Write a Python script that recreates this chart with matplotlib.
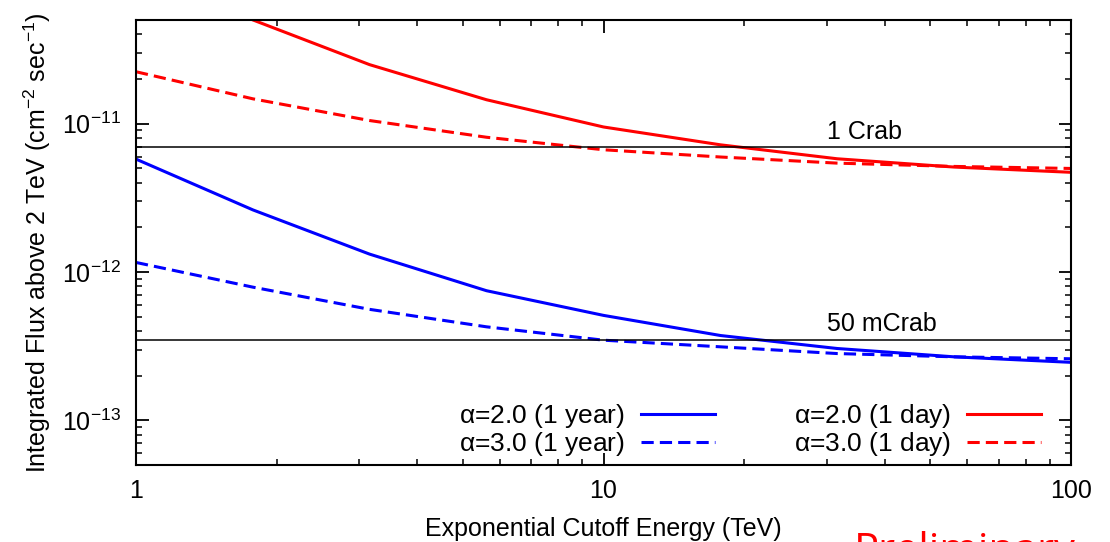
import numpy as np
import matplotlib
matplotlib.use("Agg")
import matplotlib.pyplot as plt
from matplotlib.ticker import LogLocator, NullFormatter, FixedLocator, FixedFormatter

plt.rcParams['font.family'] = ['Liberation Sans', 'DejaVu Sans']
plt.rcParams['mathtext.fontset'] = 'custom'
plt.rcParams['mathtext.rm'] = 'Liberation Sans'
plt.rcParams['mathtext.it'] = 'Liberation Sans'
plt.rcParams['mathtext.default'] = 'regular'

# cutoff energy grid (TeV)
cutoff_tev = [1.0, 1.78, 3.16, 5.62, 10.0, 17.8, 31.6, 56.2, 100.0]

# integrated flux above 2 TeV (cm^-2 s^-1)
flux_a2_year = [5.77e-12, 2.62e-12, 1.32e-12, 7.48e-13, 5.10e-13, 3.73e-13, 3.05e-13, 2.68e-13, 2.46e-13]
flux_a3_year = [1.16e-12, 7.90e-13, 5.60e-13, 4.27e-13, 3.47e-13, 3.13e-13, 2.82e-13, 2.68e-13, 2.60e-13]
flux_a2_day = [1.10e-10, 5.00e-11, 2.50e-11, 1.45e-11, 9.50e-12, 7.20e-12, 5.80e-12, 5.10e-12, 4.70e-12]
flux_a3_day = [2.24e-11, 1.47e-11, 1.05e-11, 8.10e-12, 6.67e-12, 5.96e-12, 5.42e-12, 5.15e-12, 4.99e-12]

crab_flux = 7.0e-12
crab_frac = 0.05

fig = plt.figure(figsize=(11.1, 5.42), dpi=100)
ax = fig.add_axes([0.1225, 0.1421, 0.8424, 0.821])

ax.plot(cutoff_tev, flux_a2_year, color='blue', lw=2.2, label=r'$\alpha$=2.0 (1 year)')
ax.plot(cutoff_tev, flux_a3_year, color='blue', lw=2.2, dashes=(4, 2), label=r'$\alpha$=3.0 (1 year)')
ax.plot(cutoff_tev, flux_a2_day, color='red', lw=2.2, label=r'$\alpha$=2.0 (1 day)')
ax.plot(cutoff_tev, flux_a3_day, color='red', lw=2.2, dashes=(4, 2), label=r'$\alpha$=3.0 (1 day)')

# reference Crab levels
ax.axhline(crab_flux, color='black', lw=1.1)
ax.axhline(crab_flux * crab_frac, color='black', lw=1.1)
ax.text(30, crab_flux * 1.05, '1 Crab', fontsize=18, va='bottom', ha='left')
ax.text(30, crab_flux * crab_frac * 1.05, '50 mCrab', fontsize=18, va='bottom', ha='left')

ax.set_xscale('log')
ax.set_yscale('log')
ax.set_xlim(1, 100)
ax.set_ylim(5e-14, 5e-11)

ax.xaxis.set_major_locator(FixedLocator([1, 10, 100]))
ax.xaxis.set_major_formatter(FixedFormatter(['1', '10', '100']))
ax.xaxis.set_minor_locator(LogLocator(base=10, subs=np.arange(2, 10)))
ax.xaxis.set_minor_formatter(NullFormatter())
ax.yaxis.set_major_locator(LogLocator(base=10, numticks=10))
ax.yaxis.set_minor_locator(LogLocator(base=10, subs=np.arange(2, 10), numticks=10))
ax.yaxis.set_minor_formatter(NullFormatter())

ax.tick_params(which='both', direction='in', top=True, right=True, labelsize=18)
ax.tick_params(which='major', length=9, width=1.3)
ax.tick_params(which='minor', length=4.5, width=1.1)
ax.tick_params(axis='x', which='major', pad=10)
ax.tick_params(axis='y', which='major', pad=11)
for sp in ax.spines.values():
    sp.set_linewidth(1.5)

ax.set_xlabel('Exponential Cutoff Energy (TeV)', fontsize=18, labelpad=10)
ax.set_ylabel(r'Integrated Flux above 2 TeV (cm$^{-2}$ sec$^{-1}$)', fontsize=18, labelpad=6)

ax.legend(ncol=2, markerfirst=False, frameon=False, loc='lower right',
          bbox_to_anchor=(0.968, 0.015), fontsize=19, handlelength=2.8,
          handletextpad=0.6, columnspacing=3.0, labelspacing=0.0,
          borderaxespad=0.0, borderpad=0.0)

fig.text(0.769, -0.039, 'Preliminary', color='red', fontsize=30,
         family=['Open Sans', 'DejaVu Sans'], va='baseline', ha='left')

fig.savefig('out.png', dpi=100)
